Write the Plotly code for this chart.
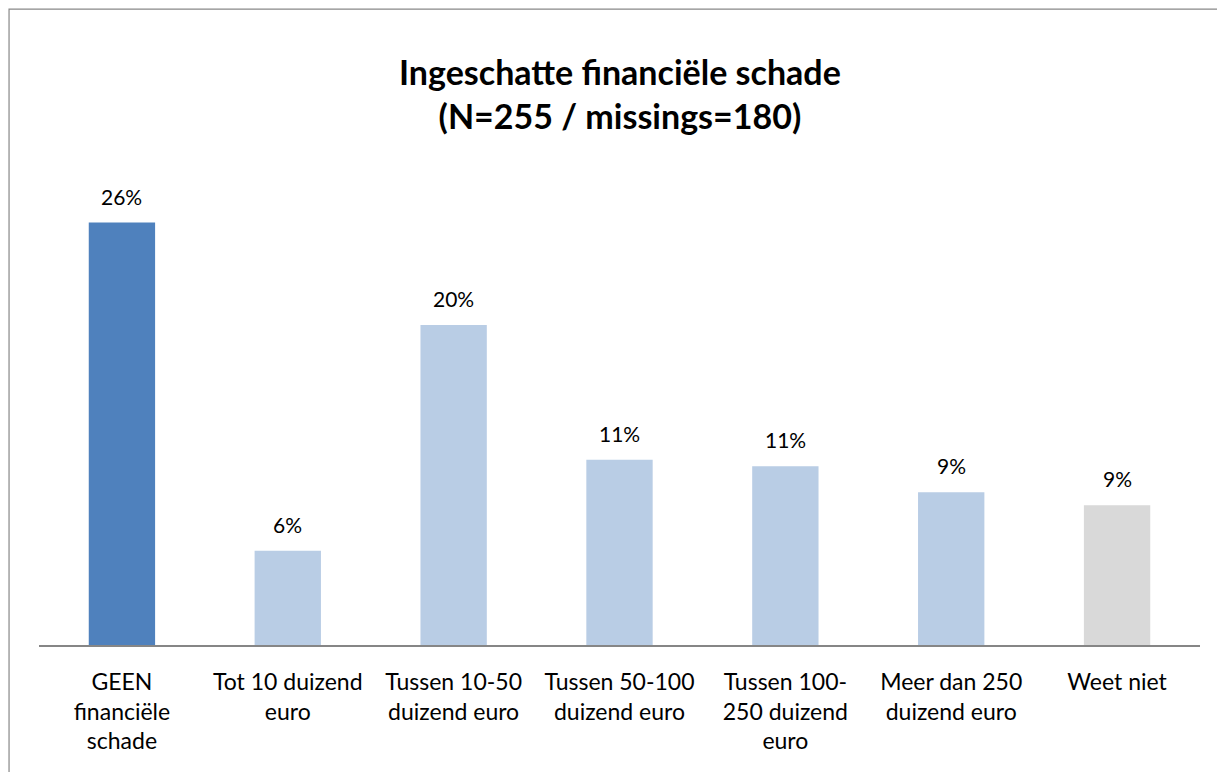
import plotly.graph_objects as go

categories = [
    "GEEN<br>financiële<br>schade",
    "Tot 10 duizend<br>euro",
    "Tussen 10-50<br>duizend euro",
    "Tussen 50-100<br>duizend euro",
    "Tussen 100-<br>250 duizend<br>euro",
    "Meer dan 250<br>duizend euro",
    "Weet niet",
]
values = [26.0, 5.8, 19.7, 11.4, 11.0, 9.4, 8.6]
labels = ["26%", "6%", "20%", "11%", "11%", "9%", "9%"]
colors = ["#4F81BD", "#B9CDE5", "#B9CDE5", "#B9CDE5", "#B9CDE5", "#B9CDE5", "#D9D9D9"]

FONT = "Lato, 'Open Sans', sans-serif"

fig = go.Figure()
fig.add_trace(go.Bar(
    x=categories, y=values, marker=dict(color=colors, line=dict(width=0)),
    width=0.4, showlegend=False, hoverinfo="skip",
))

annotations = []
for c, v, t in zip(categories, values, labels):
    annotations.append(dict(x=c, y=v, text=t, showarrow=False, yanchor="bottom",
                            yshift=12, font=dict(family=FONT, size=21, color="#000000")))

annotations.append(dict(
    x=0.5, xref="paper", y=1.2120, yref="paper", yanchor="middle",
    text="<b>Ingeschatte financiële schade<br>(N=255 / missings=180)</b>",
    showarrow=False, font=dict(family=FONT, size=34, color="#000000"),
))

fig.update_layout(
    width=1225, height=772,
    margin=dict(l=30.5, r=32.5, t=181.5, b=135),
    paper_bgcolor="white", plot_bgcolor="white",
    annotations=annotations,
    xaxis=dict(showline=True, linecolor="#868686", linewidth=2, ticks="outside",
               ticklen=0, tickcolor="white", ticklabelstandoff=15,
               tickfont=dict(family=FONT, size=23, color="#000000"),
               showgrid=False, zeroline=False),
    yaxis=dict(range=[0, 28], visible=False, showgrid=False, zeroline=False),
    shapes=[dict(type="rect", xref="paper", yref="paper",
                 x0=-0.0258, x1=3, y0=-3, y1=1.3974,
                 line=dict(color="#888888", width=1.2), fillcolor="rgba(0,0,0,0)",
                 layer="below")],
)

fig.write_html("out.html")
